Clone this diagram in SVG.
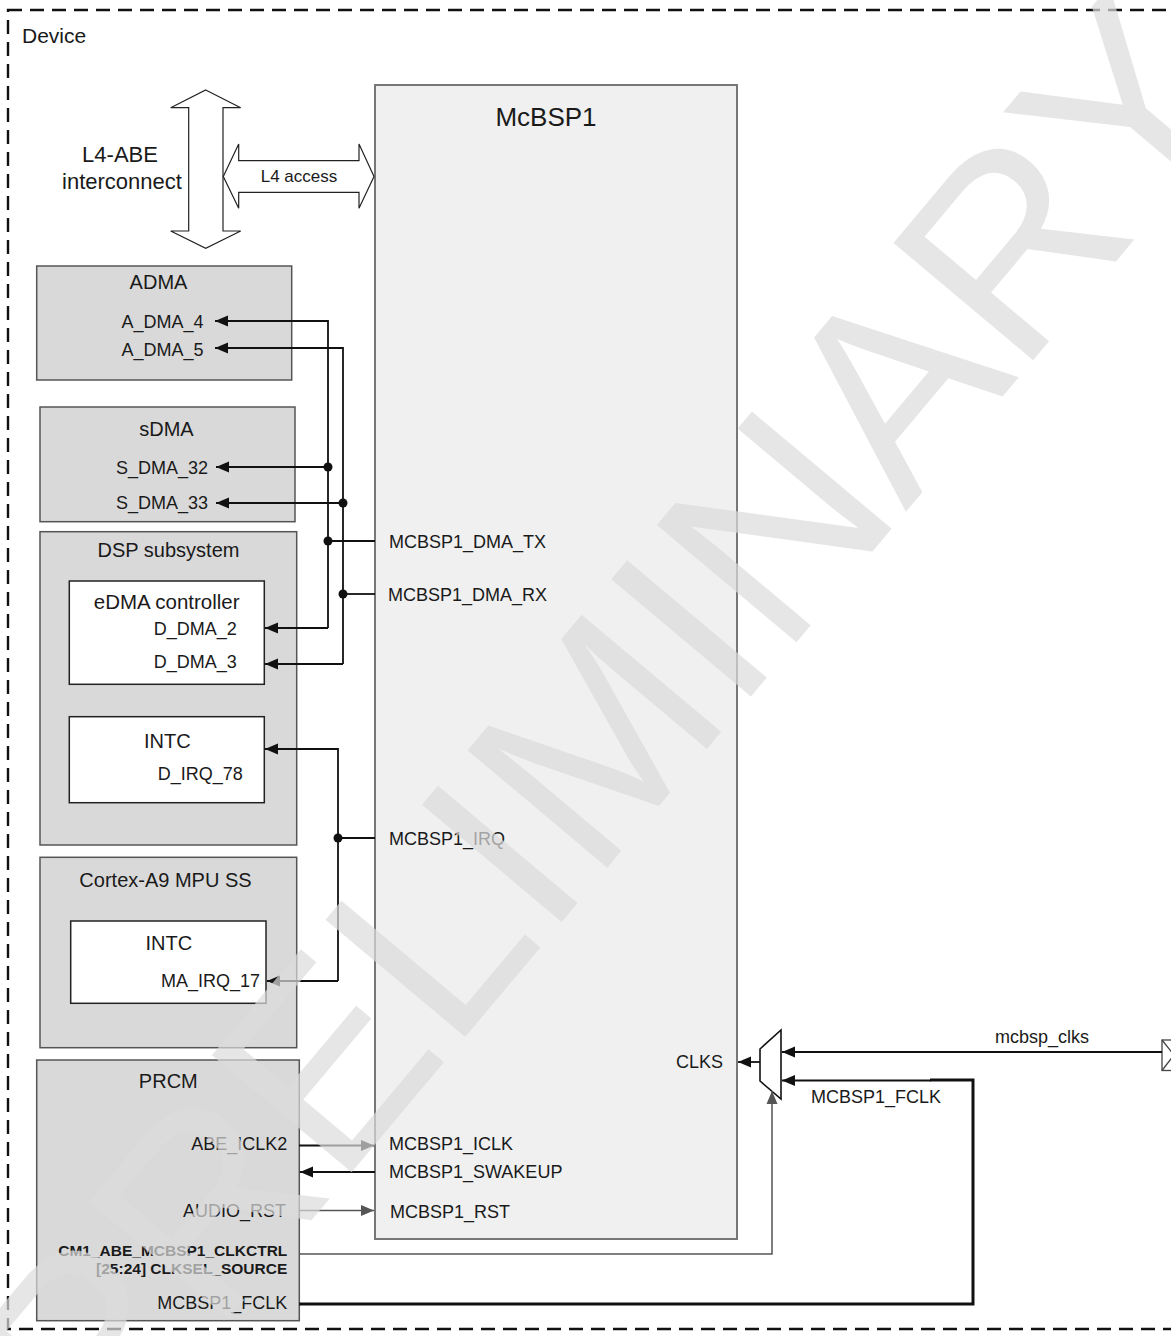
<svg xmlns="http://www.w3.org/2000/svg" width="1171" height="1336" viewBox="0 0 1171 1336">
<defs>
<marker id="ab" markerUnits="userSpaceOnUse" markerWidth="14" markerHeight="12" refX="13" refY="6" orient="auto"><path d="M0,0.5 L13,6 L0,11.5 z" fill="#111"/></marker>
<marker id="ag" markerUnits="userSpaceOnUse" markerWidth="14" markerHeight="12" refX="13" refY="6" orient="auto"><path d="M0,0.5 L13,6 L0,11.5 z" fill="#555"/></marker>
</defs>
<style>
.t{font-family:"Liberation Sans",Arial,sans-serif;fill:#1a1a1a}
.s{font-size:18px}
.h{font-size:20px}
.r{text-anchor:end}
.m{text-anchor:middle}
.blk{fill:#d9d9d9;stroke:#555;stroke-width:1.5}
.wb{fill:#fff;stroke:#222;stroke-width:1.5}
.w{fill:none;stroke:#111;stroke-width:1.8}
.g{fill:none;stroke:#555;stroke-width:1.5}
.big{fill:#fff;stroke:#222;stroke-width:1.2}
.dot{fill:#111}
</style>
<rect width="1171" height="1336" fill="#fff"/>

<g id="device">
<rect x="8" y="10" width="1190" height="1319" fill="none" stroke="#111" stroke-width="2.4" stroke-dasharray="14,8"/>
<text class="t" x="22" y="43" font-size="21">Device</text>
</g>

<g id="mcbsp1">
<rect x="375" y="85" width="362" height="1154" fill="#eff0ef" stroke="#777" stroke-width="2"/>
<text class="t m" x="546" y="126" font-size="26">McBSP1</text>
<text class="t s" x="389" y="548">MCBSP1_DMA_TX</text>
<text class="t s" x="388" y="601">MCBSP1_DMA_RX</text>
<text class="t s" x="389" y="845">MCBSP1_IRQ</text>
<text class="t s r" x="723" y="1068">CLKS</text>
<text class="t s" x="389" y="1150">MCBSP1_ICLK</text>
<text class="t s" x="389" y="1178">MCBSP1_SWAKEUP</text>
<text class="t s" x="390" y="1218">MCBSP1_RST</text>
</g>

<g id="l4abe">
<polygon class="big" points="205.7,90 240.7,107.7 223,107.7 223,231 240.7,231 205.7,248.3 170.7,231 188.7,231 188.7,107.7 170.7,107.7"/>
<text class="t m" x="120" y="162" font-size="22">L4-ABE</text>
<text class="t m" x="122" y="189" font-size="22">interconnect</text>
</g>

<g id="l4access">
<polygon class="big" points="223.3,176.5 238.7,144 238.7,160.7 359,160.7 359,144 374,176.5 359,208.3 359,192.3 238.7,192.3 238.7,208.3"/>
<text class="t m" x="299" y="182" font-size="17">L4 access</text>
</g>

<g id="adma">
<rect class="blk" x="36.7" y="266" width="255" height="114"/>
<text class="t h m" x="158.5" y="289">ADMA</text>
<text class="t s r" x="203.5" y="328">A_DMA_4</text>
<text class="t s r" x="203.5" y="355.5">A_DMA_5</text>
</g>

<g id="sdma">
<rect class="blk" x="40" y="407" width="255" height="114.7"/>
<text class="t h m" x="166.5" y="435.5">sDMA</text>
<text class="t s r" x="208" y="473.5">S_DMA_32</text>
<text class="t s r" x="208" y="509">S_DMA_33</text>
</g>

<g id="dsp">
<rect class="blk" x="40" y="531.7" width="256.7" height="313.3"/>
<text class="t h m" x="168.5" y="556.5">DSP subsystem</text>
<g id="edma">
<rect class="wb" x="69.3" y="581" width="195" height="103.3"/>
<text class="t m" x="166.7" y="609" font-size="20.5">eDMA controller</text>
<text class="t s r" x="236.7" y="635">D_DMA_2</text>
<text class="t s r" x="236.7" y="667.5">D_DMA_3</text>
</g>
<g id="dsp_intc">
<rect class="wb" x="69.3" y="716.7" width="195" height="86"/>
<text class="t h m" x="167.3" y="748">INTC</text>
<text class="t s r" x="242.7" y="780">D_IRQ_78</text>
</g>
</g>

<g id="cortex">
<rect class="blk" x="40" y="857.3" width="256.7" height="190.4"/>
<text class="t h m" x="165.5" y="886.5">Cortex-A9 MPU SS</text>
<g id="mpu_intc">
<rect class="wb" x="70.7" y="921" width="195.3" height="82.3"/>
<text class="t h m" x="168.8" y="950">INTC</text>
<text class="t s r" x="260" y="986.5">MA_IRQ_17</text>
</g>
</g>

<g id="prcm">
<rect class="blk" x="36.7" y="1060" width="262.6" height="260.7"/>
<text class="t h m" x="168.3" y="1088">PRCM</text>
<text class="t s r" x="287.3" y="1150">ABE_ICLK2</text>
<text class="t s r" x="286" y="1216.5">AUDIO_RST</text>
<text class="t r" x="287.3" y="1256" font-size="15.5" font-weight="bold">CM1_ABE_MCBSP1_CLKCTRL</text>
<text class="t r" x="287.3" y="1274" font-size="15.5" font-weight="bold">[25:24] CLKSEL_SOURCE</text>
<text class="t s r" x="287.3" y="1308.5">MCBSP1_FCLK</text>
</g>

<g id="mux">
<polygon points="760,1049 781,1030 781,1099 760,1081" fill="#fff" stroke="#111" stroke-width="1.6"/>
</g>

<g id="pad">
<rect x="1162" y="1040" width="20" height="30.5" fill="#fff" stroke="#444" stroke-width="1.3"/>
<polyline points="1162,1040 1174,1055 1162,1070.5" fill="none" stroke="#444" stroke-width="1.3"/>
</g>

<g id="connectors">
<polyline class="w" points="375,541 328,541"/>
<polyline class="w" points="375,594 343,594"/>
<polyline class="w" points="328,628 328,321 215,321" marker-end="url(#ab)"/>
<polyline class="w" points="343,664 343,348 215,348" marker-end="url(#ab)"/>
<line class="w" x1="328" y1="467" x2="216" y2="467" marker-end="url(#ab)"/>
<line class="w" x1="343" y1="503" x2="216" y2="503" marker-end="url(#ab)"/>
<line class="w" x1="328" y1="628" x2="265" y2="628" marker-end="url(#ab)"/>
<line class="w" x1="343" y1="664" x2="265" y2="664" marker-end="url(#ab)"/>
<circle class="dot" cx="328" cy="467" r="4.5"/>
<circle class="dot" cx="343" cy="503" r="4.5"/>
<circle class="dot" cx="328" cy="541" r="4.5"/>
<circle class="dot" cx="343" cy="594" r="4.5"/>
<polyline class="w" points="338,981 338,749 265,749" marker-end="url(#ab)"/>
<line class="w" x1="338" y1="981" x2="267" y2="981" marker-end="url(#ab)"/>
<line class="w" x1="375" y1="838" x2="338" y2="838"/>
<circle class="dot" cx="338" cy="838" r="4.5"/>
<line class="w" x1="299" y1="1145.5" x2="374" y2="1145.5" marker-end="url(#ab)"/>
<line class="w" x1="375" y1="1172" x2="300" y2="1172" marker-end="url(#ab)"/>
<line class="g" x1="299" y1="1210.5" x2="374" y2="1210.5" marker-end="url(#ag)"/>
<polyline class="g" points="299,1254 772,1254 772,1091" marker-end="url(#ag)"/>
<polyline fill="none" stroke="#111" stroke-width="3" points="299,1304 973,1304 973,1080 930,1080"/>
<line class="w" x1="931" y1="1080.5" x2="782" y2="1080.5" marker-end="url(#ab)"/>
<line class="w" x1="1162" y1="1052" x2="782" y2="1052" marker-end="url(#ab)"/>
<line class="w" x1="760" y1="1062" x2="738" y2="1062" marker-end="url(#ab)"/>
<text class="t s m" x="1042" y="1043">mcbsp_clks</text>
<text class="t s" x="811" y="1103">MCBSP1_FCLK</text>
</g>

<g id="watermark">
<text transform="translate(101,1471) rotate(-50)" font-family="Liberation Sans, Arial, sans-serif" font-size="265" fill="#dcdcdc" opacity="0.7">PRELIMINARY</text>
</g>
</svg>
